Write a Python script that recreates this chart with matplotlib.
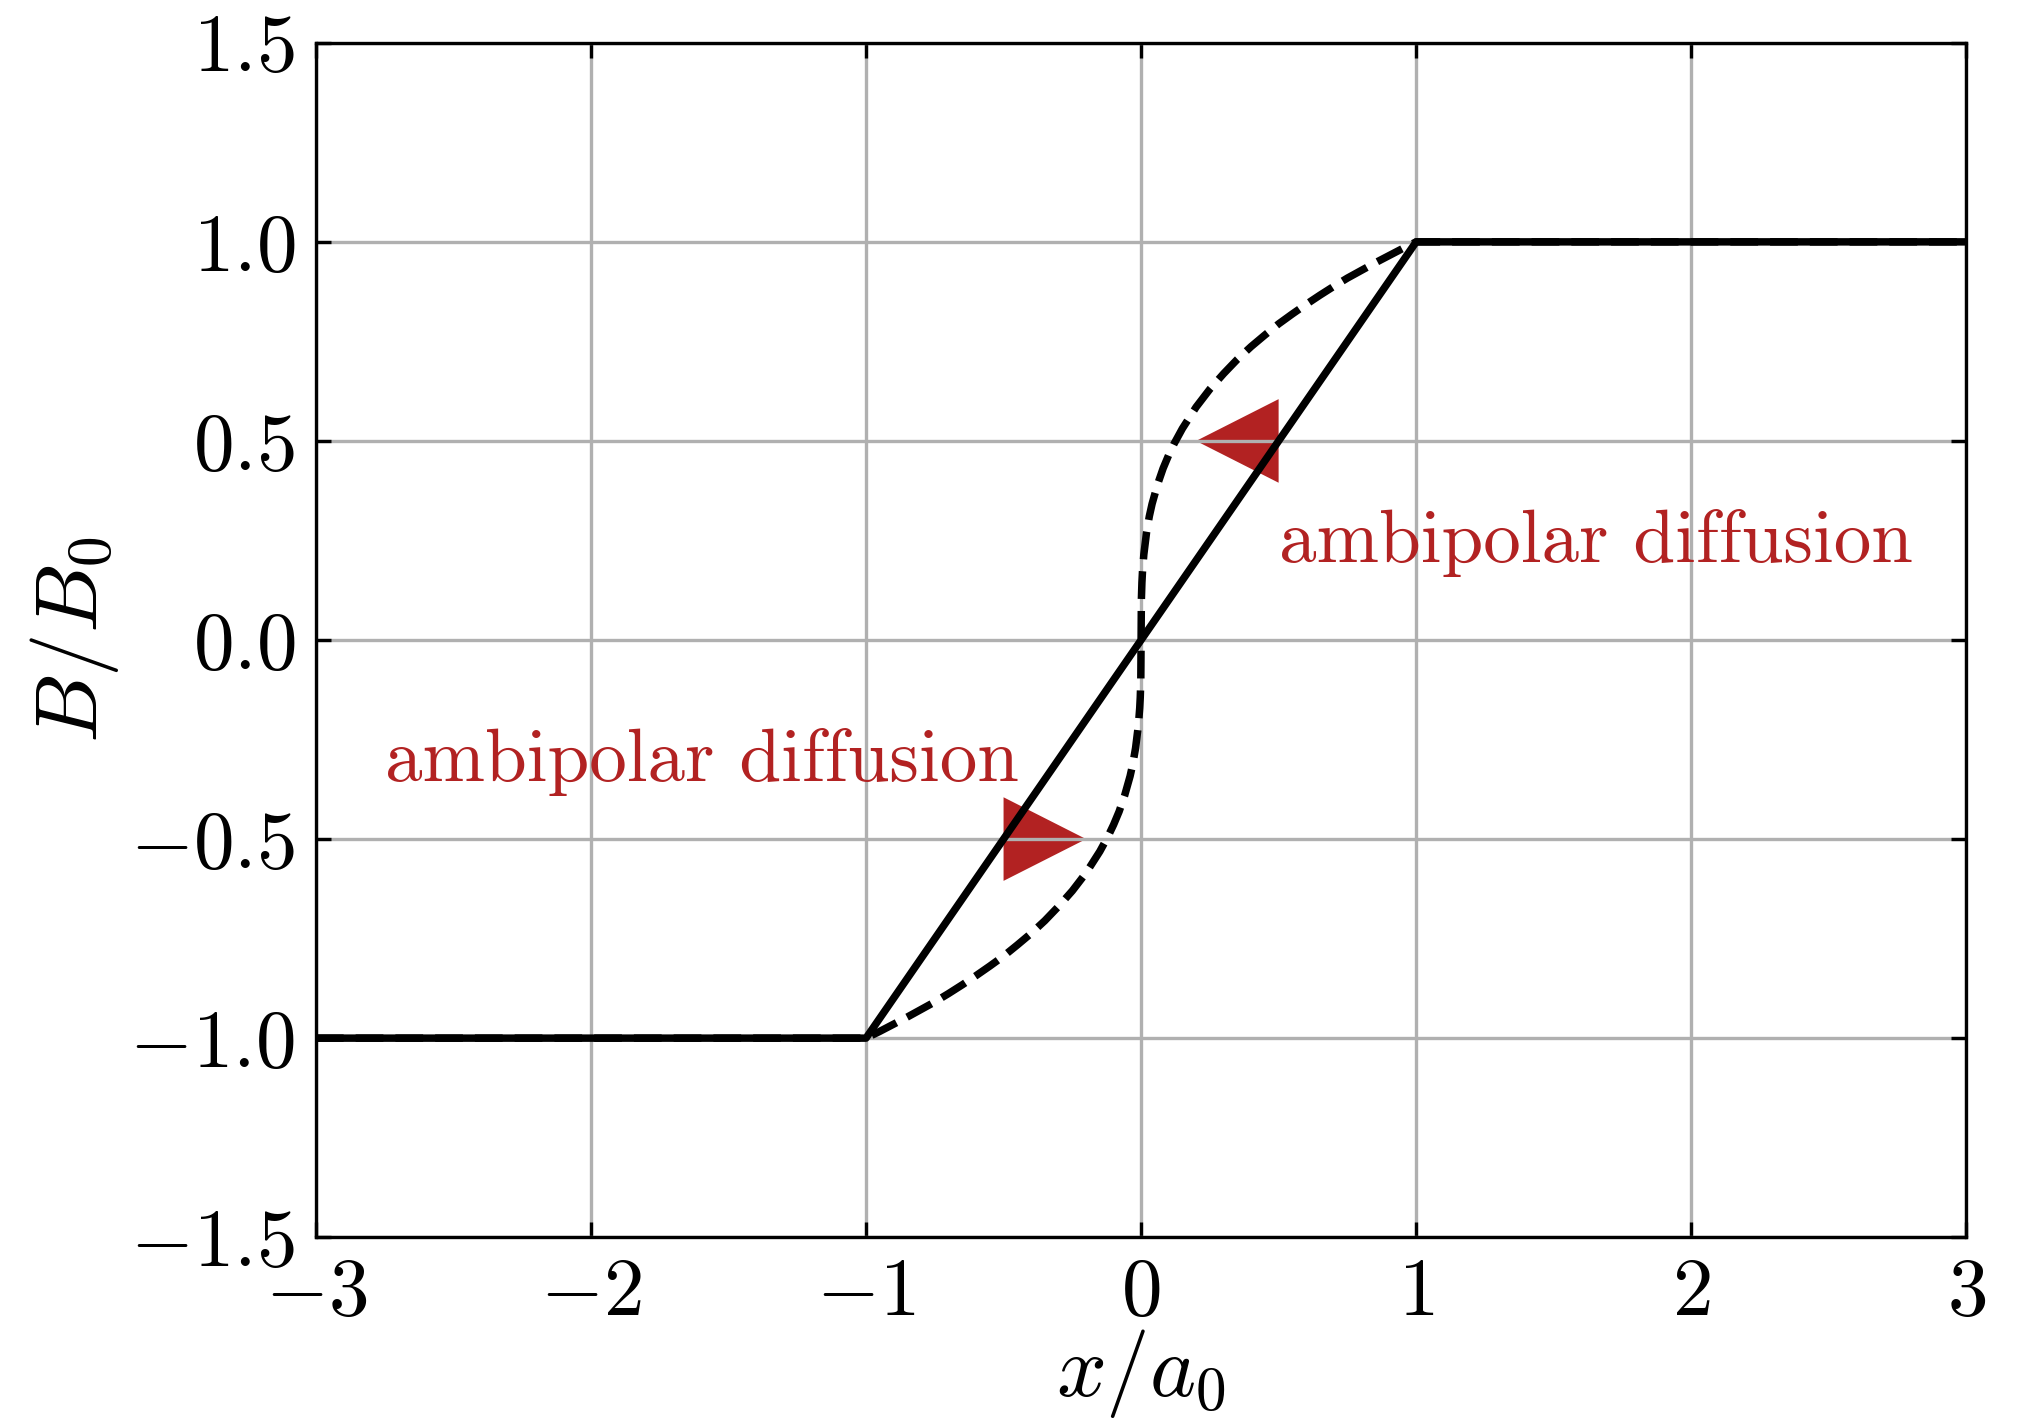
import matplotlib
matplotlib.use('Agg')
import matplotlib.pyplot as plt

plt.rcParams['font.family'] = 'serif'
plt.rcParams['font.serif'] = ['cmr10']
plt.rcParams['mathtext.fontset'] = 'cm'
plt.rcParams['axes.formatter.use_mathtext'] = True
plt.rcParams['axes.unicode_minus'] = True

# initial field profile (solid)
x_init = [-3.0, -1.0, 1.0, 3.0]
B_init = [-1.0, -1.0, 1.0, 1.0]

# field profile after ambipolar diffusion (dashed)
x_pos = [0.0, 0.001, 0.003, 0.005, 0.01, 0.02, 0.03, 0.04, 0.06, 0.08, 0.1, 0.12, 0.15,
         0.2, 0.25, 0.3, 0.35, 0.4, 0.45, 0.5, 0.55, 0.6, 0.65, 0.7, 0.75,
         0.8, 0.85, 0.9, 0.95, 1.0, 3.0]
B_pos = [0.0, 0.100, 0.144, 0.171, 0.215, 0.271, 0.311, 0.342, 0.391, 0.431, 0.464, 0.493, 0.531,
         0.585, 0.630, 0.669, 0.705, 0.737, 0.766, 0.794, 0.819, 0.843, 0.866, 0.888, 0.909,
         0.928, 0.947, 0.965, 0.983, 1.0, 1.0]
# the profile is antisymmetric about the origin
x_diff = [-v for v in x_pos[:0:-1]] + x_pos
B_diff = [-v for v in B_pos[:0:-1]] + B_pos

x_ticks = [-3, -2, -1, 0, 1, 2, 3]
y_ticks = [-1.5, -1.0, -0.5, 0.0, 0.5, 1.0, 1.5]

red = '#b22222'

fig = plt.figure(figsize=(6.75, 4.7567), dpi=300)
ax = fig.add_axes([0.156, 0.133, 0.815, 0.837])

ax.arrow(1.0, 0.5, -0.8, 0.0, width=0.004, head_width=0.21, head_length=0.3,
         length_includes_head=True, color=red, lw=0, zorder=1)
ax.arrow(-1.0, -0.5, 0.8, 0.0, width=0.004, head_width=0.21, head_length=0.3,
         length_includes_head=True, color=red, lw=0, zorder=1)

ax.plot(x_init, B_init, color='k', lw=1.8)
ax.plot(x_diff, B_diff, color='k', lw=1.8, ls='--', dashes=(3.7, 1.6))

ax.text(0.5, 0.195, 'ambipolar diffusion', color=red, fontsize=18, ha='left', va='baseline')
ax.text(-2.75, -0.355, 'ambipolar diffusion', color=red, fontsize=18, ha='left', va='baseline')

ax.set_xlim(-3, 3)
ax.set_ylim(-1.5, 1.5)
ax.set_xticks(x_ticks)
ax.set_yticks(y_ticks)
ax.grid(True, color='#b0b0b0', lw=0.8)
ax.tick_params(direction='in', top=True, right=True, labelsize=19.5, pad=5)

ax.set_xlabel(r'$x/a_0$', fontsize=21, labelpad=-1)
ax.set_ylabel(r'$B/B_0$', fontsize=21, labelpad=2)

fig.savefig('out.png', dpi=300)
